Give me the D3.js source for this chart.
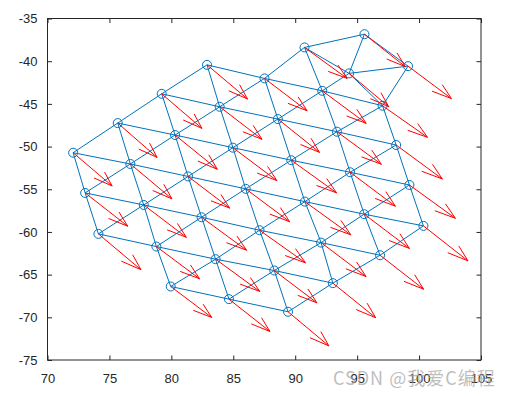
<!DOCTYPE html>
<html>
<head>
<meta charset="utf-8">
<script src="https://cdn.jsdelivr.net/npm/d3@7"></script>
<style>
  body { margin: 0; background: #fff; }
  svg { display: block; }
  .tick text { font-family: "Liberation Sans", Arial, sans-serif; font-size: 13px; fill: #262626; }
</style>
</head>
<body>
<svg width="507" height="397"></svg>
<script>
// node positions (x, y)
var nodeX = [72.07, 75.67, 79.22, 82.88,
  73.04, 76.69, 80.30, 83.90, 87.52, 90.75,
  74.11, 77.77, 81.35, 84.97, 88.60, 92.18,
  78.79, 82.44, 86.00, 89.68, 93.37, 97.05,
  79.95, 83.57, 87.12, 90.78, 94.43, 98.15,
  84.65, 88.31, 92.09, 95.57, 99.22,
  89.42, 93.04, 96.85, 100.35,
  95.59, 94.35, 99.11];
var nodeY = [-50.72, -47.25, -43.82, -40.43,
  -55.43, -52.04, -48.65, -45.34, -42.02, -38.39,
  -60.23, -56.84, -53.50, -50.13, -46.78, -43.47,
  -61.71, -58.28, -54.95, -51.60, -48.26, -45.22,
  -66.39, -63.19, -59.80, -56.45, -53.01, -49.82,
  -67.87, -64.52, -61.25, -57.92, -54.50,
  -69.35, -66.00, -62.73, -59.29,
  -36.84, -41.43, -40.58];

// arrow components at each node
var arrowU = [3.15, 3.18, 3.25, 3.27,
  3.44, 3.36, 3.41, 3.42, 3.44, 3.44,
  3.44, 3.44, 3.36, 3.55, 3.36, 3.55,
  3.49, 3.63, 3.55, 3.66, 3.58, 3.63,
  3.31, 3.57, 3.71, 3.71, 3.66, 3.73,
  3.31, 3.44, 3.63, 3.65, 3.71,
  3.30, 3.46, 3.52, 3.60,
  3.30, 3.20, 3.50];
var arrowV = [-3.90, -4.02, -4.05, -4.00,
  -3.90, -4.09, -4.01, -3.81, -3.79, -3.63,
  -4.20, -3.79, -3.71, -3.86, -3.90, -3.81,
  -3.78, -3.86, -3.85, -3.82, -3.81, -3.70,
  -3.63, -3.78, -3.82, -3.89, -3.98, -3.98,
  -3.79, -3.78, -3.98, -4.01, -3.90,
  -4.00, -4.05, -3.98, -4.10,
  -3.80, -3.90, -3.80];

// triangles (node indices)
var triangles = [
  [0, 1, 5], [1, 2, 6], [2, 3, 7], [0, 4, 5], [1, 5, 6], [2, 6, 7], [3, 7, 8],
  [4, 5, 11], [5, 6, 12], [6, 7, 13], [7, 8, 14], [8, 9, 15],
  [4, 10, 11], [5, 11, 12], [6, 12, 13], [7, 13, 14], [8, 14, 15],
  [10, 11, 16], [11, 12, 17], [12, 13, 18], [13, 14, 19], [14, 15, 20],
  [11, 16, 17], [12, 17, 18], [13, 18, 19], [14, 19, 20], [15, 20, 21],
  [16, 17, 23], [17, 18, 24], [18, 19, 25], [19, 20, 26], [20, 21, 27],
  [16, 22, 23], [17, 23, 24], [18, 24, 25], [19, 25, 26], [20, 26, 27],
  [22, 23, 28], [23, 24, 29], [24, 25, 30], [25, 26, 31], [26, 27, 32],
  [23, 28, 29], [24, 29, 30], [25, 30, 31], [26, 31, 32],
  [28, 29, 33], [29, 30, 34], [30, 31, 35], [31, 32, 36],
  [29, 33, 34], [30, 34, 35], [31, 35, 36],
  [9, 37, 38], [37, 38, 39], [9, 38, 15], [15, 38, 21], [38, 39, 21]
];

var xTicks = [70, 75, 80, 85, 90, 95, 100, 105];
var yTicks = [-75, -70, -65, -60, -55, -50, -45, -40, -35];

var svg = d3.select("svg");
var boxLeft = 47.5, boxRight = 481, boxTop = 18.5, boxBottom = 360;

var x = d3.scaleLinear().domain([70, 105]).range([boxLeft, boxRight]);
var y = d3.scaleLinear().domain([-75, -35]).range([boxBottom, boxTop]);

var nodes = nodeX.map(function(d, i) {
  return { x: d, y: nodeY[i], u: arrowU[i], v: arrowV[i] };
});

// unique edges from the triangles
var edges = [];
var seen = {};
triangles.forEach(function(t) {
  [[t[0], t[1]], [t[1], t[2]], [t[2], t[0]]].forEach(function(e) {
    var key = Math.min(e[0], e[1]) + "-" + Math.max(e[0], e[1]);
    if (!seen[key]) { seen[key] = true; edges.push(e); }
  });
});

var blue = "#0072BD";

svg.append("g").selectAll("line")
  .data(edges)
  .enter().append("line")
  .attr("x1", function(d) { return x(nodes[d[0]].x); })
  .attr("y1", function(d) { return y(nodes[d[0]].y); })
  .attr("x2", function(d) { return x(nodes[d[1]].x); })
  .attr("y2", function(d) { return y(nodes[d[1]].y); })
  .attr("stroke", blue)
  .attr("stroke-width", 1);

svg.append("g").selectAll("circle")
  .data(nodes)
  .enter().append("circle")
  .attr("cx", function(d) { return x(d.x); })
  .attr("cy", function(d) { return y(d.y); })
  .attr("r", 4.5)
  .attr("fill", "none")
  .attr("stroke", blue)
  .attr("stroke-width", 1);

// quiver arrows, head shape like matlab (alpha = beta = 0.33)
var alpha = 0.33, beta = 0.33;
var line = d3.line().x(function(p) { return x(p[0]); }).y(function(p) { return y(p[1]); });

var arrows = svg.append("g").attr("fill", "none").attr("stroke", "#FF0000").attr("stroke-width", 1);
nodes.forEach(function(d) {
  var tx = d.x + d.u, ty = d.y + d.v;
  arrows.append("path").attr("d", line([[d.x, d.y], [tx, ty]]));
  arrows.append("path").attr("d", line([
    [tx - alpha * (d.u + beta * d.v), ty - alpha * (d.v - beta * d.u)],
    [tx, ty],
    [tx - alpha * (d.u - beta * d.v), ty - alpha * (d.v + beta * d.u)]
  ]));
});

// axes box with ticks on all four sides
var axisColor = "#262626";
svg.append("g")
  .attr("transform", "translate(0," + boxBottom + ")")
  .call(d3.axisBottom(x).tickValues(xTicks).tickSizeInner(-4.5).tickSizeOuter(0).tickPadding(14))
  .call(function(g) { g.select(".domain").remove(); });
svg.append("g")
  .attr("transform", "translate(0," + boxTop + ")")
  .call(d3.axisTop(x).tickValues(xTicks).tickSizeInner(-4.5).tickSizeOuter(0).tickFormat(""))
  .call(function(g) { g.select(".domain").remove(); });
svg.append("g")
  .attr("transform", "translate(" + boxLeft + ",0)")
  .call(d3.axisLeft(y).tickValues(yTicks).tickSizeInner(-4.5).tickSizeOuter(0).tickPadding(10)
    .tickFormat(function(d) { return String(d); }))
  .call(function(g) { g.select(".domain").remove(); });
svg.append("g")
  .attr("transform", "translate(" + boxRight + ",0)")
  .call(d3.axisRight(y).tickValues(yTicks).tickSizeInner(-4.5).tickSizeOuter(0).tickFormat(""))
  .call(function(g) { g.select(".domain").remove(); });

svg.selectAll(".tick line").attr("stroke", axisColor);

svg.append("rect")
  .attr("x", boxLeft).attr("y", boxTop)
  .attr("width", boxRight - boxLeft).attr("height", boxBottom - boxTop)
  .attr("fill", "none")
  .attr("stroke", axisColor)
  .attr("stroke-width", 1);

// watermark
svg.append("text")
  .attr("x", 333)
  .attr("y", 385)
  .attr("font-family", "'Noto Sans CJK SC', sans-serif")
  .attr("font-size", "18px")
  .attr("letter-spacing", "1px")
  .attr("fill", "#a8a8a8")
  .attr("fill-opacity", 0.75)
  .text("CSDN @我爱C编程");
</script>
</body>
</html>
